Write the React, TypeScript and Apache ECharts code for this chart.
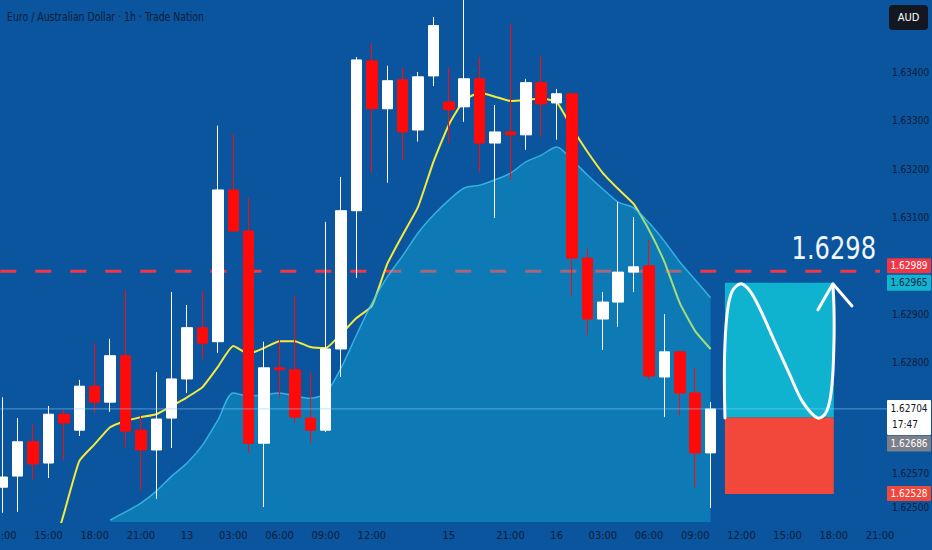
import React, { useEffect, useRef } from "react";
import * as echarts from "echarts";

// ---------- data ----------
const timeLabels = [
  "12:00", "13:00", "14:00", "15:00", "16:00", "17:00", "18:00", "19:00", "20:00", "21:00",
  "22:00", "23:00", "13", "01:00", "02:00", "03:00", "04:00", "05:00", "06:00", "07:00",
  "08:00", "09:00", "10:00", "11:00", "12:00", "13:00", "14:00", "15:00", "16:00", "15",
  "18:00", "19:00", "20:00", "21:00", "22:00", "23:00", "16", "01:00", "02:00", "03:00",
  "04:00", "05:00", "06:00", "07:00", "08:00", "09:00", "10:00", "11:00", "12:00", "13:00",
  "14:00", "15:00", "16:00", "17:00", "18:00", "19:00", "20:00", "21:00",
];
const shownTimeTicks = [0, 3, 6, 9, 12, 15, 18, 21, 24, 29, 33, 36, 39, 42, 45, 48, 51, 54, 57];

// [open, close, low, high]
const candles = [
  [1.62542, 1.62563, 1.62489, 1.62728],
  [1.62565, 1.62636, 1.62491, 1.62685],
  [1.62636, 1.6259, 1.62557, 1.62673],
  [1.62592, 1.62693, 1.62561, 1.6271],
  [1.62693, 1.62675, 1.62598, 1.62702],
  [1.6266, 1.62751, 1.62648, 1.62764],
  [1.62751, 1.62718, 1.62696, 1.6284],
  [1.62718, 1.62814, 1.62698, 1.62849],
  [1.62814, 1.62658, 1.62625, 1.6295],
  [1.6266, 1.62619, 1.62536, 1.62691],
  [1.62619, 1.62683, 1.62518, 1.6278],
  [1.62685, 1.62766, 1.62623, 1.62946],
  [1.62766, 1.62872, 1.62737, 1.62919],
  [1.62872, 1.6284, 1.62807, 1.62948],
  [1.62843, 1.63157, 1.6282, 1.6329],
  [1.63157, 1.63072, 1.63072, 1.63273],
  [1.63072, 1.62633, 1.62613, 1.63141],
  [1.62633, 1.62789, 1.62501, 1.62843],
  [1.62789, 1.62785, 1.62728, 1.62847],
  [1.62785, 1.62687, 1.62675, 1.62938],
  [1.62685, 1.6266, 1.62633, 1.6278],
  [1.6266, 1.62828, 1.62656, 1.63091],
  [1.62828, 1.63114, 1.6277, 1.63184],
  [1.63114, 1.63426, 1.62975, 1.63432],
  [1.63424, 1.63325, 1.63192, 1.63461],
  [1.63325, 1.63383, 1.63172, 1.63414],
  [1.63385, 1.63277, 1.63219, 1.6341],
  [1.63281, 1.63391, 1.63257, 1.63401],
  [1.63393, 1.63497, 1.63372, 1.63515],
  [1.63339, 1.63323, 1.63254, 1.6341],
  [1.63329, 1.63387, 1.63298, 1.6356],
  [1.63387, 1.63254, 1.63194, 1.63432],
  [1.63254, 1.63277, 1.63099, 1.63333],
  [1.63277, 1.63271, 1.63178, 1.63501],
  [1.63271, 1.63379, 1.6324, 1.63387],
  [1.63379, 1.63335, 1.63267, 1.63435],
  [1.63337, 1.63356, 1.63261, 1.63366],
  [1.63356, 1.63016, 1.62938, 1.63358],
  [1.63016, 1.6289, 1.62857, 1.63035],
  [1.6289, 1.62925, 1.62826, 1.62946],
  [1.62925, 1.62987, 1.62874, 1.63132],
  [1.62987, 1.62998, 1.62946, 1.63101],
  [1.63, 1.62772, 1.62764, 1.63054],
  [1.6277, 1.62822, 1.62687, 1.629],
  [1.62822, 1.62737, 1.62691, 1.62824],
  [1.62737, 1.62613, 1.62542, 1.62789],
  [1.62613, 1.62704, 1.62499, 1.62718],
];

const maValues = [
  "-", "-", "-", 1.6238, 1.62487, 1.62596, 1.62631, 1.62666, 1.62679, 1.62687,
  1.62693, 1.6271, 1.62728, 1.62749, 1.62791, 1.62834, 1.62818, 1.6283, 1.62844, 1.62844,
  1.62832, 1.6283, 1.62859, 1.62892, 1.62917, 1.63004, 1.63064, 1.63122, 1.63215, 1.63292,
  1.63343, 1.63358, 1.6335, 1.63341, 1.63343, 1.63346, 1.63339, 1.63285, 1.63236, 1.63192,
  1.63159, 1.63128, 1.63074, 1.63008, 1.62923, 1.62865, 1.62828,
];

const areaValues = [
  "-", "-", "-", "-", "-", "-", "-", 1.62474, 1.62491, 1.62509,
  1.62534, 1.62565, 1.62592, 1.62629, 1.62681, 1.62737, 1.62731, 1.62733, 1.62737, 1.62731,
  1.62726, 1.62737, 1.62789, 1.62857, 1.62923, 1.62977, 1.63021, 1.63068, 1.63105, 1.63136,
  1.63161, 1.63167, 1.63178, 1.63192, 1.63215, 1.63229, 1.63246, 1.63219, 1.63188, 1.63159,
  1.63132, 1.6312, 1.63089, 1.63051, 1.63008, 1.62971, 1.62934,
];

const yTickLabels = [1.625, 1.6257, 1.628, 1.629, 1.631, 1.632, 1.633, 1.634];

const resistance = 1.62989;
const lastPrice = 1.62704;
const tpTop = 1.62965;
const entryPrice = 1.62686;
const slBottom = 1.62528;
const boxStart = 46.93;
const boxEnd = 54;
const targetLabel = "1.6298";
const countdown = "17:47";
const titleText = "Euro / Australian Dollar · 1h · Trade Nation";
const currency = "AUD";

// projected path, [bar index, price]
const curvePoints = [
  [46.93, 1.62685], [46.9, 1.62805], [47.06, 1.62898], [47.38, 1.62946], [47.97, 1.62963],
  [48.55, 1.62948], [49.2, 1.62911], [50.05, 1.62851], [51.15, 1.62774], [51.99, 1.62718],
  [52.97, 1.62685], [53.55, 1.627], [53.88, 1.62753], [54.01, 1.62842], [54.01, 1.62913],
  [53.94, 1.62961],
];
const arrowPoints = [[52.97, 1.62909], [53.94, 1.62963], [55.18, 1.62917]];

const tagPrices = [resistance, tpTop, lastPrice, entryPrice, slBottom];

// ---------- styles ----------
const FONT = "'Liberation Sans Narrow', 'DejaVu Sans Condensed', Roboto, sans-serif";
const BG = "#0b549e";
const TEXT = "#0c1d38";
const tagStyles = [
  { bg: "#f23645", color: "#ffffff", top: -13, h: 15 },
  { bg: "#12b4d0", color: "#0b2440", top: -8, h: 16 },
  { bg: "#ffffff", color: "#131722", top: -9, h: 35 },
  { bg: "#7b7f89", color: "#ffffff", top: 18, h: 16 },
  { bg: "#f2473b", color: "#ffffff", top: -8, h: 15 },
];

function renderLevel(params: any, api: any) {
  const cs = params.coordSys;
  const y = api.coord([0, resistance])[1];
  return {
    type: "line",
    shape: { x1: cs.x - 2, y1: y, x2: cs.x + cs.width, y2: y },
    style: { stroke: "#f23645", lineWidth: 3, lineDash: [16, 19] },
  };
}

function renderOverlay(params: any, api: any) {
  const cs = params.coordSys;
  const pt = (p: number[]) => api.coord(p);
  const [x0, yTp] = pt([boxStart, tpTop]);
  const [x1, yEntry] = pt([boxEnd, entryPrice]);
  const [, ySl] = pt([boxStart, slBottom]);
  const [tx, yRes] = pt([boxEnd, resistance]);
  const yLast = pt([0, lastPrice])[1];
  const children: any[] = [
    { type: "rect", shape: { x: x0, y: yTp, width: x1 - x0, height: yEntry - yTp }, style: { fill: "#10b3cf" } },
    { type: "rect", shape: { x: x0, y: yEntry, width: x1 - x0, height: ySl - yEntry }, style: { fill: "#f2473b" } },
    {
      type: "line",
      shape: { x1: cs.x - 2, y1: yLast, x2: cs.x + cs.width + 7, y2: yLast },
      style: { stroke: "rgba(140,205,250,0.55)", lineWidth: 1 },
    },
    {
      type: "polyline",
      shape: { points: curvePoints.map(pt), smooth: 0.35 },
      style: { stroke: "#ffffff", lineWidth: 3, fill: null, lineCap: "round", lineJoin: "round" },
    },
    {
      type: "polyline",
      shape: { points: arrowPoints.map(pt) },
      style: { stroke: "#ffffff", lineWidth: 3, fill: null, lineCap: "round", lineJoin: "round" },
    },
    {
      type: "text",
      x: tx,
      y: yRes - 23,
      scaleX: 0.84,
      style: {
        text: targetLabel, x: 0, y: 0, fill: "#f2f6ff",
        fontSize: 32, fontFamily: FONT, align: "center", verticalAlign: "middle",
      },
    },
  ];
  const tagX = cs.x + cs.width + 7;
  tagPrices.forEach((p, i) => {
    const st = tagStyles[i];
    const y = pt([0, p])[1];
    children.push({ type: "rect", shape: { x: tagX, y: y + st.top, width: 44, height: st.h, r: 1 }, style: { fill: st.bg } });
    if (i === 2) {
      children.push({ type: "text", style: { text: p.toFixed(5), x: tagX + 22, y: y, fill: st.color, fontSize: 10, fontFamily: FONT, align: "center", verticalAlign: "middle" } });
      children.push({ type: "text", style: { text: countdown, x: tagX + 5, y: y + 16, fill: st.color, fontSize: 10, fontFamily: FONT, align: "left", verticalAlign: "middle" } });
    } else {
      children.push({ type: "text", style: { text: p.toFixed(5), x: tagX + 22, y: y + st.top + st.h / 2, fill: st.color, fontSize: 10, fontFamily: FONT, align: "center", verticalAlign: "middle" } });
    }
  });
  return { type: "group", children };
}

export default function App() {
  const ref = useRef<HTMLDivElement>(null);
  useEffect(() => {
    const chart = echarts.init(ref.current!, null, { renderer: "svg" });
    const shownY = new Set(yTickLabels.map((v) => Math.round(v * 1e5)));
    const shownX = new Set(shownTimeTicks);
    chart.setOption({
      animation: false,
      backgroundColor: BG,
      graphic: [
        {
          type: "text",
          left: 7,
          top: 10,
          scaleX: 0.8,
          style: { text: titleText, fill: TEXT, fontSize: 13, fontFamily: FONT },
        },
        {
          type: "group",
          right: 4,
          top: 5,
          children: [
            { type: "rect", shape: { x: 0, y: 0, width: 39, height: 25, r: 4 }, style: { fill: "#131722" } },
            { type: "text", style: { text: currency, x: 19.5, y: 12.5, fill: "#ffffff", fontSize: 11, fontFamily: FONT, align: "center", verticalAlign: "middle" } },
          ],
        },
      ],
      grid: { left: 2.3, right: 52, top: 0, bottom: 28, outerBoundsMode: "none", containLabel: false },
      xAxis: [
        {
          type: "category",
          data: timeLabels,
          boundaryGap: false,
          axisLine: { show: false },
          axisTick: { show: false },
          splitLine: { show: false },
          axisLabel: {
            interval: (i: number) => shownX.has(i),
            color: TEXT,
            fontSize: 11,
            fontFamily: FONT,
            margin: 8,
          },
        },
        { type: "value", min: 0, max: timeLabels.length - 1, show: false },
      ],
      yAxis: {
        type: "value",
        position: "right",
        min: 1.6247,
        max: 1.6355,
        interval: 0.0001,
        axisLine: { show: false },
        axisTick: { show: false },
        splitLine: { show: false },
        axisLabel: {
          color: TEXT,
          fontSize: 10,
          fontFamily: FONT,
          margin: 12,
          formatter: (v: number) => (shownY.has(Math.round(v * 1e5)) ? v.toFixed(5) : ""),
        },
      },
      series: [
        {
          type: "custom",
          name: "Level",
          xAxisIndex: 1,
          z: 1,
          silent: true,
          clip: false,
          data: [[0, resistance]],
          renderItem: renderLevel,
        },
        {
          type: "line",
          name: "MA",
          data: maValues,
          z: 1,
          symbol: "none",
          smooth: 0.15,
          lineStyle: { color: "#f3ea3f", width: 2 },
        },
        {
          type: "line",
          name: "Area",
          data: areaValues,
          z: 2,
          symbol: "none",
          smooth: 0.3,
          lineStyle: { color: "rgba(70,200,240,0.75)", width: 1.5 },
          areaStyle: { color: "rgba(16,196,226,0.5)", origin: "start" },
        },
        {
          type: "candlestick",
          data: candles.map((c) => [c[0], c[1], c[2], c[3]]),
          z: 3,
          barWidth: 11,
          itemStyle: {
            color: "#ffffff",
            color0: "#ff0a0a",
            borderColor: "#ffffff",
            borderColor0: "#ff0a0a",
            borderWidth: 1,
          },
        },
        {
          type: "custom",
          name: "Plan",
          xAxisIndex: 1,
          yAxisIndex: 0,
          z: 5,
          silent: true,
          clip: false,
          data: [[boxStart, tpTop]],
          renderItem: renderOverlay,
        },
      ],
    });
    return () => chart.dispose();
  }, []);
  return <div ref={ref} style={{ position: "fixed", left: 0, top: 0, width: 932, height: 550 }} />;
}
